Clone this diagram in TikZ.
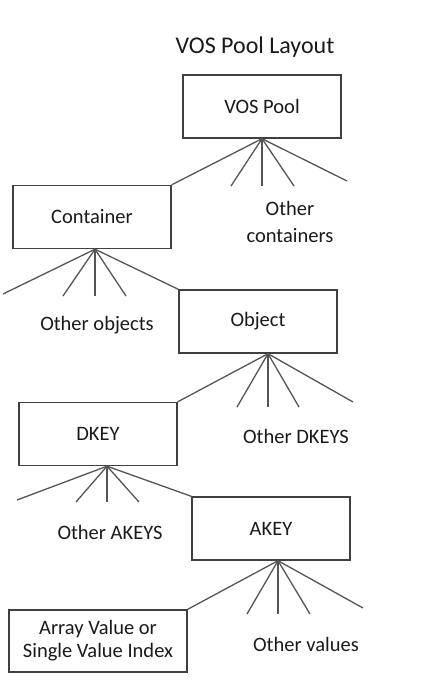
\documentclass[tikz,border=0pt]{standalone}
\usepackage{fontspec}
\setmainfont{Carlito}
\usepackage{xcolor}
\usepackage{tikz}
\usetikzlibrary{positioning, calc}
\definecolor{ink}{HTML}{1A1A1A}
\definecolor{frame}{HTML}{404040}
\definecolor{branch}{HTML}{555555}
\tikzset{
  layer/.style   = {rectangle, draw=frame, line width=1.4pt, fill=white,
                    minimum width=158pt, minimum height=63pt, inner sep=2pt,
                    align=center, text=ink, font=\fontsize{20.5}{23}\selectfont},
  other/.style   = {align=center, text=ink, inner sep=0pt,
                    font=\fontsize{20.5}{27}\selectfont},
  heading/.style = {text=ink, inner sep=0pt, font=\fontsize{24}{28}\selectfont},
  edge/.style    = {draw=branch, line width=1.3pt},
}

\begin{document}
\begin{tikzpicture}[x=1pt, y=1pt]
  \useasboundingbox (0,0) rectangle (441,-687);

  \node[heading] (title) at (255,-47) {VOS Pool Layout};

  % the levels of the tree
  \node[layer] (pool)      at (262,-106.5) {VOS Pool};
  \node[layer] (container) at (92,-217)    {Container};
  \node[layer] (object)    at (258,-321.5) {Object};
  \node[layer] (dkey)      at (98,-434)    {DKEY};
  \node[layer] (akey)      at (271,-528.5) {AKEY};
  \node[layer, minimum width=178pt, minimum height=62pt] (value) at (98,-641)
       {Array Value or\\Single Value Index};

  % where each fan starts
  \coordinate (poolfan)      at ([xshift=0pt]pool.south);
  \coordinate (containerfan) at ([xshift=3pt]container.south);
  \coordinate (objectfan)    at ([xshift=10pt]object.south);
  \coordinate (dkeyfan)      at ([xshift=9pt]dkey.south);
  \coordinate (akeyfan)      at ([xshift=7pt]akey.south);

  % free ends of the fans
  \coordinate (pool-a) at (231,-186);  \coordinate (pool-b) at (262,-186);
  \coordinate (pool-c) at (294,-186);  \coordinate (pool-d) at (347,-181);
  \coordinate (container-a) at (3,-294);   \coordinate (container-b) at (63,-296);
  \coordinate (container-c) at (95,-296);  \coordinate (container-d) at (126,-296);
  \coordinate (object-a) at (237,-407);  \coordinate (object-b) at (268,-407);
  \coordinate (object-c) at (299,-407);  \coordinate (object-d) at (353,-402);
  \coordinate (dkey-a) at (17,-500);   \coordinate (dkey-b) at (76,-502);
  \coordinate (dkey-c) at (107,-502);  \coordinate (dkey-d) at (139,-502);
  \coordinate (akey-a) at (247,-614);  \coordinate (akey-b) at (278,-614);
  \coordinate (akey-c) at (310,-614);  \coordinate (akey-d) at (363,-608);

  \foreach \lvl in {pool, container, object, dkey, akey}
    \foreach \e in {a, b, c, d}
      \draw[edge] (\lvl fan) -- (\lvl-\e);

  \draw[edge] (poolfan) -- (container.north east);
  \draw[edge] (containerfan) -- (object.north west);
  \draw[edge] (objectfan) -- (dkey.north east);
  \draw[edge] (dkeyfan) -- (akey.north west);
  \draw[edge] (akeyfan) -- (value.north east);

  % labels for the siblings
  \node[other] (othercontainers) at (290,-221.5) {Other\\containers};
  \node[other] (otherobjects)    at (97,-325)    {Other objects};
  \node[other] (otherdkeys)      at (296,-436.5) {Other DKEYS};
  \node[other] (otherakeys)      at (110,-532)   {Other AKEYS};
  \node[other] (othervalues)     at (306,-644)   {Other values};

\end{tikzpicture}
\end{document}
